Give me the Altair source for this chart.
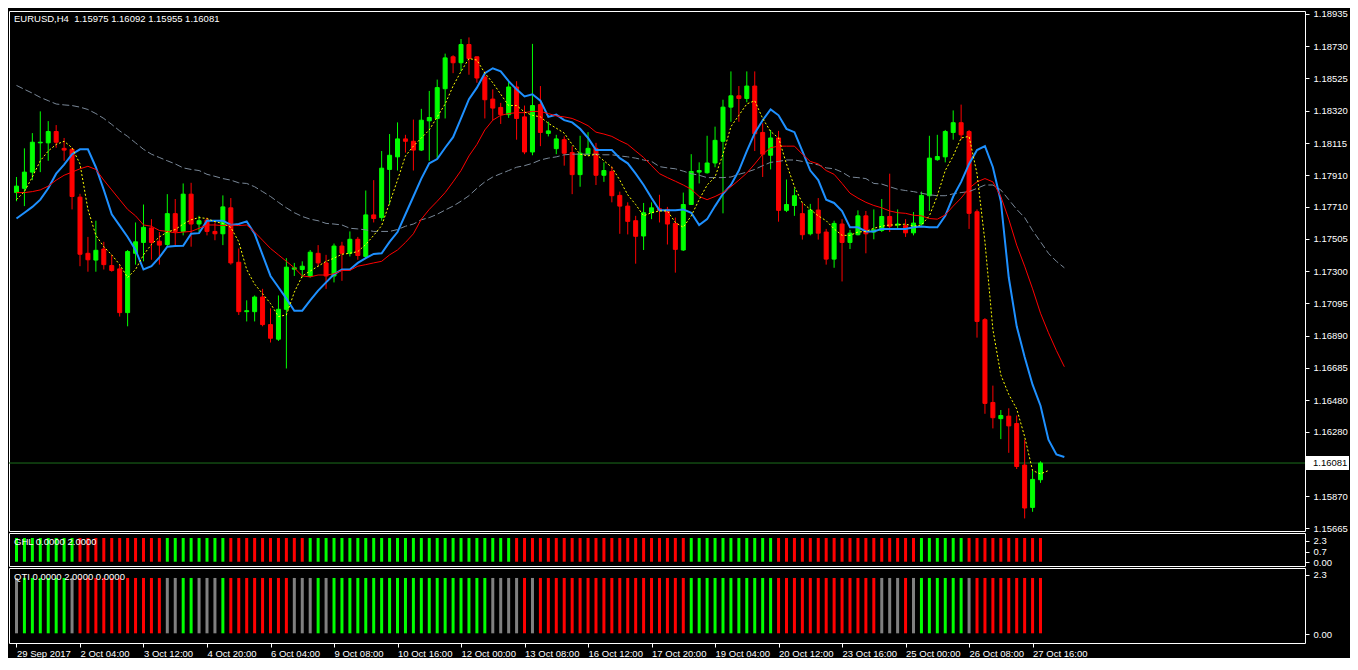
import altair as alt
import pandas as pd
import numpy as np

# ---------------- data ----------------
opens = [1.17800, 1.17827, 1.17930, 1.18116, 1.18116, 1.18188, 1.18081, 1.18075, 1.17771, 1.17414,
         1.17371, 1.17441, 1.17336, 1.17315, 1.17037, 1.17414, 1.17483, 1.17575, 1.17491, 1.17470,
         1.17666, 1.17553, 1.17790, 1.17600, 1.17625, 1.17553, 1.17538, 1.17703, 1.17357, 1.17043,
         1.17043, 1.17136, 1.16961, 1.16868, 1.17058, 1.17313, 1.17311, 1.17268, 1.17414, 1.17353,
         1.17270, 1.17460, 1.17414, 1.17503, 1.17394, 1.17658, 1.17641, 1.17947, 1.18027, 1.18141,
         1.18126, 1.18070, 1.18256, 1.18271, 1.18460, 1.18663, 1.18625, 1.18741, 1.18663, 1.18535,
         1.18394, 1.18341, 1.18295, 1.18471, 1.18281, 1.18058, 1.18359, 1.18176, 1.18079, 1.18136,
         1.18054, 1.17914, 1.18044, 1.18081, 1.17910, 1.17934, 1.17782, 1.17714, 1.17621, 1.17524,
         1.17672, 1.17697, 1.17693, 1.17604, 1.17435, 1.17724, 1.17930, 1.17926, 1.17988, 1.18126,
         1.18343, 1.18415, 1.18398, 1.18477, 1.18182, 1.18037, 1.18147, 1.17687, 1.17718, 1.17666,
         1.17538, 1.17689, 1.17549, 1.17377, 1.17600, 1.17483, 1.17532, 1.17652, 1.17549, 1.17559,
         1.17648, 1.17594, 1.17590, 1.17544, 1.17600, 1.17780, 1.18009, 1.18027, 1.18182, 1.18244,
         1.18188, 1.17678, 1.16992, 1.16466, 1.16363, 1.16379, 1.16332, 1.16068, 1.15799, 1.15975]
highs = [1.17899, 1.18081, 1.18178, 1.18316, 1.18254, 1.18229, 1.18147, 1.18085, 1.17792, 1.17518,
         1.17621, 1.17487, 1.17404, 1.17342, 1.17435, 1.17610, 1.17724, 1.17631, 1.17549, 1.17790,
         1.17759, 1.17858, 1.17862, 1.17652, 1.17641, 1.17610, 1.17782, 1.17765, 1.17445, 1.17115,
         1.17146, 1.17188, 1.17064, 1.17146, 1.17383, 1.17353, 1.17363, 1.17435, 1.17466, 1.17404,
         1.17476, 1.17487, 1.17553, 1.17518, 1.17813, 1.17879, 1.18064, 1.18172, 1.18246, 1.18167,
         1.18264, 1.18332, 1.18446, 1.18518, 1.18683, 1.18673, 1.18776, 1.18786, 1.18663, 1.18570,
         1.18456, 1.18370, 1.18508, 1.18508, 1.18353, 1.18745, 1.18477, 1.18250, 1.18167, 1.18157,
         1.18095, 1.18161, 1.18184, 1.18116, 1.17992, 1.17965, 1.17806, 1.17738, 1.17652, 1.17734,
         1.17738, 1.17786, 1.17709, 1.17641, 1.17800, 1.18044, 1.17992, 1.18161, 1.18219, 1.18390,
         1.18570, 1.18477, 1.18570, 1.18570, 1.18240, 1.18198, 1.18192, 1.17883, 1.17827, 1.17734,
         1.17728, 1.17765, 1.17569, 1.17621, 1.17631, 1.17563, 1.17687, 1.17683, 1.17693, 1.17759,
         1.17920, 1.17693, 1.17631, 1.17676, 1.17806, 1.18161, 1.18167, 1.18198, 1.18322, 1.18359,
         1.18198, 1.17693, 1.17002, 1.16573, 1.16418, 1.16429, 1.16383, 1.16229, 1.16033, 1.16092]
lows = [1.17745, 1.17714, 1.17879, 1.17930, 1.18002, 1.18085, 1.18002, 1.17693, 1.17332, 1.17297,
        1.17297, 1.17311, 1.17297, 1.17012, 1.16950, 1.17342, 1.17363, 1.17373, 1.17342, 1.17456,
        1.17466, 1.17528, 1.17456, 1.17549, 1.17528, 1.17497, 1.17466, 1.17342, 1.17022, 1.16981,
        1.16981, 1.16950, 1.16847, 1.16857, 1.16682, 1.17270, 1.17260, 1.17260, 1.17332, 1.17188,
        1.17229, 1.17239, 1.17394, 1.17373, 1.17383, 1.17610, 1.17621, 1.17724, 1.17940, 1.18054,
        1.17940, 1.18064, 1.18002, 1.18013, 1.18271, 1.18559, 1.18570, 1.18549, 1.18498, 1.18271,
        1.18260, 1.18236, 1.18275, 1.18136, 1.18044, 1.18037, 1.18095, 1.18157, 1.18044, 1.17971,
        1.17790, 1.17837, 1.18033, 1.17848, 1.17868, 1.17738, 1.17538, 1.17534, 1.17348, 1.17435,
        1.17631, 1.17610, 1.17470, 1.17291, 1.17429, 1.17724, 1.17858, 1.17920, 1.17961, 1.17668,
        1.18250, 1.18250, 1.18374, 1.18064, 1.17899, 1.17947, 1.17615, 1.17676, 1.17652, 1.17501,
        1.17528, 1.17501, 1.17342, 1.17322, 1.17235, 1.17441, 1.17528, 1.17414, 1.17503, 1.17549,
        1.17549, 1.17569, 1.17518, 1.17528, 1.17590, 1.17683, 1.18002, 1.17992, 1.18136, 1.18136,
        1.17569, 1.16878, 1.16394, 1.16301, 1.16233, 1.16146, 1.16043, 1.15729, 1.15771, 1.15955]
closes = [1.17841, 1.17930, 1.18120, 1.18120, 1.18188, 1.18120, 1.18070, 1.17775, 1.17408, 1.17373,
          1.17433, 1.17342, 1.17305, 1.17037, 1.17425, 1.17487, 1.17579, 1.17483, 1.17466, 1.17666,
          1.17553, 1.17790, 1.17600, 1.17621, 1.17553, 1.17538, 1.17709, 1.17353, 1.17043, 1.17049,
          1.17136, 1.16961, 1.16874, 1.17058, 1.17326, 1.17322, 1.17332, 1.17421, 1.17353, 1.17270,
          1.17460, 1.17414, 1.17503, 1.17400, 1.17658, 1.17635, 1.17955, 1.18037, 1.18141, 1.18126,
          1.18070, 1.18260, 1.18277, 1.18467, 1.18656, 1.18625, 1.18741, 1.18652, 1.18528, 1.18390,
          1.18337, 1.18295, 1.18471, 1.18271, 1.18058, 1.18353, 1.18182, 1.18192, 1.18141, 1.18050,
          1.17914, 1.18050, 1.18081, 1.17910, 1.17940, 1.17780, 1.17714, 1.17617, 1.17522, 1.17672,
          1.17703, 1.17687, 1.17600, 1.17439, 1.17724, 1.17934, 1.17940, 1.17988, 1.18132, 1.18343,
          1.18415, 1.18398, 1.18477, 1.18174, 1.18044, 1.18147, 1.17687, 1.17724, 1.17780, 1.17532,
          1.17689, 1.17542, 1.17377, 1.17604, 1.17483, 1.17542, 1.17652, 1.17538, 1.17563, 1.17648,
          1.17586, 1.17600, 1.17544, 1.17606, 1.17782, 1.18019, 1.18029, 1.18188, 1.18244, 1.18167,
          1.17668, 1.16981, 1.16460, 1.16369, 1.16383, 1.16317, 1.16059, 1.15795, 1.15977, 1.16081]

ma_blue = [1.17635, 1.17672, 1.17709, 1.17755, 1.17827, 1.17920, 1.17978, 1.18044, 1.18075, 1.18075,
           1.17961, 1.17817, 1.17662, 1.17590, 1.17518, 1.17435, 1.17311, 1.17332, 1.17388, 1.17456,
           1.17460, 1.17462, 1.17538, 1.17542, 1.17621, 1.17621, 1.17621, 1.17594, 1.17600, 1.17617,
           1.17538, 1.17404, 1.17270, 1.17198, 1.17126, 1.17049, 1.17049, 1.17115, 1.17177, 1.17229,
           1.17280, 1.17311, 1.17311, 1.17353, 1.17383, 1.17410, 1.17414, 1.17487, 1.17549, 1.17662,
           1.17775, 1.17889, 1.17986, 1.18013, 1.18085, 1.18152, 1.18271, 1.18394, 1.18467, 1.18559,
           1.18590, 1.18570, 1.18508, 1.18456, 1.18411, 1.18425, 1.18384, 1.18281, 1.18295, 1.18260,
           1.18246, 1.18205, 1.18147, 1.18070, 1.18070, 1.18070, 1.18019, 1.17986, 1.17920, 1.17848,
           1.17765, 1.17687, 1.17687, 1.17687, 1.17693, 1.17672, 1.17594, 1.17631, 1.17714, 1.17792,
           1.17848, 1.17940, 1.18064, 1.18178, 1.18260, 1.18328, 1.18291, 1.18205, 1.18184, 1.18064,
           1.17940, 1.17879, 1.17755, 1.17734, 1.17683, 1.17579, 1.17579, 1.17553, 1.17553, 1.17569,
           1.17569, 1.17569, 1.17569, 1.17579, 1.17584, 1.17579, 1.17579, 1.17652, 1.17775, 1.17868,
           1.17982, 1.18070, 1.18095, 1.17961, 1.17745, 1.17260, 1.16950, 1.16755, 1.16579, 1.16445,
           1.16229, 1.16136, 1.16119]
ma_red = [1.17800, 1.17800, 1.17806, 1.17817, 1.17841, 1.17879, 1.17910, 1.17930, 1.17951, 1.17967,
          1.17947, 1.17879, 1.17817, 1.17755, 1.17693, 1.17652, 1.17594, 1.17586, 1.17559, 1.17553,
          1.17544, 1.17549, 1.17553, 1.17573, 1.17594, 1.17594, 1.17590, 1.17594, 1.17590, 1.17594,
          1.17549, 1.17497, 1.17445, 1.17404, 1.17363, 1.17322, 1.17270, 1.17264, 1.17276, 1.17276,
          1.17284, 1.17305, 1.17305, 1.17332, 1.17342, 1.17353, 1.17363, 1.17404, 1.17435, 1.17483,
          1.17538, 1.17631, 1.17693, 1.17745, 1.17800, 1.17868, 1.17940, 1.18033, 1.18106, 1.18198,
          1.18260, 1.18291, 1.18302, 1.18308, 1.18308, 1.18316, 1.18316, 1.18302, 1.18287, 1.18281,
          1.18271, 1.18250, 1.18225, 1.18184, 1.18172, 1.18157, 1.18130, 1.18106, 1.18064, 1.18023,
          1.17971, 1.17920, 1.17895, 1.17872, 1.17848, 1.17821, 1.17775, 1.17755, 1.17775, 1.17800,
          1.17837, 1.17879, 1.17924, 1.17982, 1.18044, 1.18085, 1.18095, 1.18095, 1.18095, 1.18044,
          1.17998, 1.17982, 1.17940, 1.17916, 1.17858, 1.17796, 1.17765, 1.17738, 1.17718, 1.17703,
          1.17683, 1.17672, 1.17668, 1.17656, 1.17652, 1.17635, 1.17631, 1.17658, 1.17714, 1.17765,
          1.17827, 1.17868, 1.17889, 1.17868, 1.17775, 1.17631, 1.17466, 1.17332, 1.17188, 1.17033,
          1.16909, 1.16796, 1.16693]
ma_gray = [1.18481, 1.18456, 1.18432, 1.18405, 1.18384, 1.18363, 1.18357, 1.18353, 1.18343, 1.18328,
           1.18302, 1.18271, 1.18233, 1.18192, 1.18157, 1.18116, 1.18075, 1.18044, 1.18023, 1.18002,
           1.17982, 1.17957, 1.17947, 1.17940, 1.17916, 1.17903, 1.17889, 1.17879, 1.17862, 1.17858,
           1.17837, 1.17806, 1.17775, 1.17738, 1.17703, 1.17672, 1.17648, 1.17631, 1.17621, 1.17604,
           1.17600, 1.17594, 1.17573, 1.17569, 1.17563, 1.17553, 1.17553, 1.17553, 1.17565, 1.17586,
           1.17600, 1.17627, 1.17641, 1.17662, 1.17689, 1.17714, 1.17745, 1.17780, 1.17827, 1.17868,
           1.17899, 1.17920, 1.17940, 1.17961, 1.17971, 1.17986, 1.18007, 1.18019, 1.18027, 1.18040,
           1.18044, 1.18044, 1.18044, 1.18044, 1.18040, 1.18040, 1.18033, 1.18027, 1.18019, 1.18007,
           1.17998, 1.17965, 1.17957, 1.17951, 1.17936, 1.17920, 1.17910, 1.17895, 1.17895, 1.17895,
           1.17899, 1.17916, 1.17930, 1.17947, 1.17971, 1.17992, 1.17998, 1.18007, 1.18007, 1.17998,
           1.17986, 1.17976, 1.17957, 1.17951, 1.17930, 1.17899, 1.17895, 1.17889, 1.17858, 1.17854,
           1.17837, 1.17821, 1.17813, 1.17806, 1.17796, 1.17786, 1.17780, 1.17780, 1.17792, 1.17800,
           1.17806, 1.17827, 1.17848, 1.17848, 1.17817, 1.17755, 1.17693, 1.17641, 1.17559, 1.17487,
           1.17414, 1.17363, 1.17322]
ma_yellow = [1.17755, 1.17806, 1.17899, 1.18002, 1.18064, 1.18106, 1.18126, 1.18085, 1.17982, 1.17693,
             1.17528, 1.17456, 1.17404, 1.17342, 1.17260, 1.17311, 1.17404, 1.17470, 1.17518, 1.17549,
             1.17565, 1.17600, 1.17627, 1.17641, 1.17635, 1.17615, 1.17604, 1.17579, 1.17487, 1.17311,
             1.17218, 1.17157, 1.17095, 1.17012, 1.17022, 1.17167, 1.17270, 1.17301, 1.17332, 1.17363,
             1.17383, 1.17408, 1.17414, 1.17425, 1.17470, 1.17528, 1.17590, 1.17734, 1.17879, 1.18033,
             1.18095, 1.18147, 1.18198, 1.18281, 1.18363, 1.18477, 1.18570, 1.18652, 1.18642, 1.18559,
             1.18498, 1.18425, 1.18353, 1.18353, 1.18312, 1.18291, 1.18281, 1.18240, 1.18209, 1.18178,
             1.18106, 1.18044, 1.18033, 1.18044, 1.18002, 1.17961, 1.17879, 1.17786, 1.17724, 1.17652,
             1.17672, 1.17683, 1.17683, 1.17610, 1.17579, 1.17652, 1.17755, 1.17848, 1.17899, 1.18044,
             1.18219, 1.18291, 1.18363, 1.18384, 1.18271, 1.18188, 1.18147, 1.17982, 1.17837, 1.17734,
             1.17693, 1.17652, 1.17621, 1.17569, 1.17528, 1.17528, 1.17549, 1.17553, 1.17573, 1.17586,
             1.17594, 1.17594, 1.17600, 1.17586, 1.17594, 1.17652, 1.17780, 1.17940, 1.18033, 1.18147,
             1.18157, 1.17920, 1.17487, 1.16930, 1.16641, 1.16517, 1.16425, 1.16249, 1.16033, 1.16012,
             1.16033]

# indicator colours per bar, as runs (G = green, R = red, Y = gray)
ghl_runs = [("G", 8), ("R", 11), ("G", 8), ("R", 10), ("G", 26), ("R", 22),
            ("G", 11), ("R", 18), ("G", 6), ("R", 10)]
qti_runs = [("Y", 1), ("G", 6), ("Y", 1), ("R", 11), ("Y", 2), ("G", 2), ("Y", 3), ("G", 1),
            ("R", 8), ("Y", 3), ("G", 1), ("Y", 1), ("G", 20), ("Y", 4), ("R", 1), ("Y", 1),
            ("R", 19), ("G", 11), ("R", 13), ("Y", 3), ("R", 1), ("Y", 1), ("G", 6), ("Y", 1), ("R", 9)]
ind_value = 2.0

time_tick_bars = [0, 8, 16, 24, 32, 40, 48, 56, 64, 72, 80, 88, 96, 104, 112, 120, 128]
time_tick_labels = ["29 Sep 2017", "2 Oct 04:00", "3 Oct 12:00", "4 Oct 20:00", "6 Oct 04:00",
                    "9 Oct 08:00", "10 Oct 16:00", "12 Oct 00:00", "13 Oct 08:00", "16 Oct 12:00",
                    "17 Oct 20:00", "19 Oct 04:00", "20 Oct 12:00", "23 Oct 16:00", "25 Oct 00:00",
                    "26 Oct 08:00", "27 Oct 16:00"]
price_ticks = [1.18935, 1.18730, 1.18525, 1.18320, 1.18115, 1.17910, 1.17710, 1.17505, 1.17300,
               1.17095, 1.16890, 1.16685, 1.16480, 1.16280, 1.15870, 1.15665]
last_price = 1.16081
header = "EURUSD,H4\u00a0\u00a01.15975 1.16092 1.15955 1.16081"
ghl_title = "GHL 0.0000 2.0000"
qti_title = "QTI 0.0000 2.0000 0.0000"

# ---------------- layout ----------------
W = 1296
H_MAIN, H_GHL, H_QTI = 520, 33, 75
F = "Liberation Sans"
FS = 9.5
WHITE = "#FFFFFF"

xs = alt.Scale(domain=[-0.3125, W / 8 - 0.3125], nice=False, zero=False)
ys = alt.Scale(domain=[1.15649, 1.18954], nice=False, zero=False)
X = alt.X("i:Q", scale=xs, axis=None)

yaxis = alt.Axis(orient="right", values=price_ticks, format=".5f", title=None, tickSize=4,
                 labelPadding=4, labelFlush=False, labelOverlap=False, grid=False, domain=False)


def Y(field):
    return alt.Y(field, type="quantitative", scale=ys, axis=yaxis)


n = len(opens)
cdf = pd.DataFrame({"i": np.arange(n), "open": opens, "high": highs, "low": lows, "close": closes})
cdf["dir"] = np.where(cdf["close"] >= cdf["open"], "up", "down")
cscale = alt.Scale(domain=["up", "down"], range=["#00FF00", "#FF0000"])


def ma_df(vals):
    return pd.DataFrame({"i": np.arange(len(vals)), "v": vals})


bid = alt.Chart(pd.DataFrame({"p": [last_price]})).mark_rule(color="#1B6E1B", strokeWidth=1).encode(y=Y("p"))
wicks = alt.Chart(cdf).mark_rule(strokeWidth=1).encode(
    x=X, y=Y("low"), y2="high", color=alt.Color("dir:N", scale=cscale, legend=None))
bodies = alt.Chart(cdf).mark_bar(size=4, strokeWidth=1).encode(
    x=X, y=Y("open"), y2="close",
    color=alt.Color("dir:N", scale=cscale, legend=None),
    stroke=alt.Stroke("dir:N", scale=cscale, legend=None))
gray = alt.Chart(ma_df(ma_gray)).mark_line(color="#7A8898", strokeWidth=1, strokeDash=[7, 3]).encode(x=X, y=Y("v"))
blue = alt.Chart(ma_df(ma_blue)).mark_line(color="#1E90FF", strokeWidth=2).encode(x=X, y=Y("v"))
red = alt.Chart(ma_df(ma_red)).mark_line(color="#FF0000", strokeWidth=1).encode(x=X, y=Y("v"))
yellow = alt.Chart(ma_df(ma_yellow)).mark_line(color="#FFFF00", strokeWidth=1, strokeDash=[2, 2]).encode(x=X, y=Y("v"))

head = alt.Chart(pd.DataFrame({"t": [header]})).mark_text(
    align="left", baseline="middle", color=WHITE, font=F, fontSize=FS).encode(
    x=alt.value(5), y=alt.value(8), text="t:N")

lp = pd.DataFrame({"p": [last_price], "t": [f"{last_price:.5f}"]})
box = alt.Chart(lp).mark_point(shape="M-1,-0.32L1,-0.32L1,0.32L-1,0.32Z", size=44 * 44,
                               filled=True, opacity=1, color=WHITE, strokeWidth=0).encode(
    x=alt.value(W + 22), y=Y("p"))
box_t = alt.Chart(lp).mark_text(align="left", baseline="middle", color="#000000", font=F, fontSize=FS).encode(
    x=alt.value(W + 8), y=Y("p"), text="t:N")

main = alt.layer(bid, wicks, bodies, gray, blue, red, yellow, head, box, box_t).properties(
    width=W, height=H_MAIN)

iscale = alt.Scale(domain=["G", "R", "Y"], range=["#00FF00", "#FF0000", "#808080"])


def runs_to_list(runs):
    out = []
    for c, k in runs:
        out += [c] * k
    return out


def ind_panel(runs, title, h, dom, axis_vals, axis_expr, xaxis=None):
    cols = runs_to_list(runs)
    d = pd.DataFrame({"i": np.arange(len(cols)), "c": cols, "v": ind_value, "v0": 0.0})
    yax = alt.Axis(orient="right", values=axis_vals, labelExpr=axis_expr, title=None, tickSize=4,
                   labelPadding=4, labelFlush=False, labelOverlap=False, grid=False, domain=False)
    xx = alt.X("i:Q", scale=xs, axis=xaxis)
    bars = alt.Chart(d).mark_bar(size=3).encode(
        x=xx,
        y=alt.Y("v0:Q", scale=alt.Scale(domain=dom, nice=False, zero=False), axis=yax),
        y2="v:Q",
        color=alt.Color("c:N", scale=iscale, legend=None))
    t = alt.Chart(pd.DataFrame({"t": [title]})).mark_text(
        align="left", baseline="middle", color=WHITE, font=F, fontSize=FS).encode(
        x=alt.value(5), y=alt.value(9), text="t:N")
    return alt.layer(bars, t).properties(width=W, height=h)


label_array = "[" + ",".join("'" + s + "'" for s in time_tick_labels) + "]"
value_array = "[" + ",".join(str(v) for v in time_tick_bars) + "]"
xaxis = alt.Axis(orient="bottom", values=time_tick_bars,
                 labelExpr=label_array + "[indexof(" + value_array + ", datum.value)]",
                 title=None, tickSize=4, labelPadding=1, labelAlign="left", labelFlush=False,
                 labelOverlap=False, labelBound=False, grid=False, domain=False)

ghl = ind_panel(ghl_runs, ghl_title, H_GHL, [-0.36, 2.42], [1.77, 0.82, -0.05],
                "datum.value > 1 ? '2.3' : (datum.value > 0 ? '0.7' : '0.00')")
qti = ind_panel(qti_runs, qti_title, H_QTI, [-0.35, 2.36], [2.11, -0.04],
                "datum.value > 1 ? '2.3' : '0.00'", xaxis=xaxis)

chart = alt.vconcat(main, ghl, qti, spacing=2, bounds="flush").resolve_scale(
    x="independent", y="independent", color="independent", stroke="independent"
).properties(padding=0).configure(background="#000000").configure_view(
    stroke=WHITE, strokeWidth=1
).configure_axis(
    labelColor=WHITE, tickColor=WHITE, labelFont=F, labelFontSize=FS, grid=False, domain=False
)

chart.save("out.html", embed_options={"renderer": "svg", "actions": False})
